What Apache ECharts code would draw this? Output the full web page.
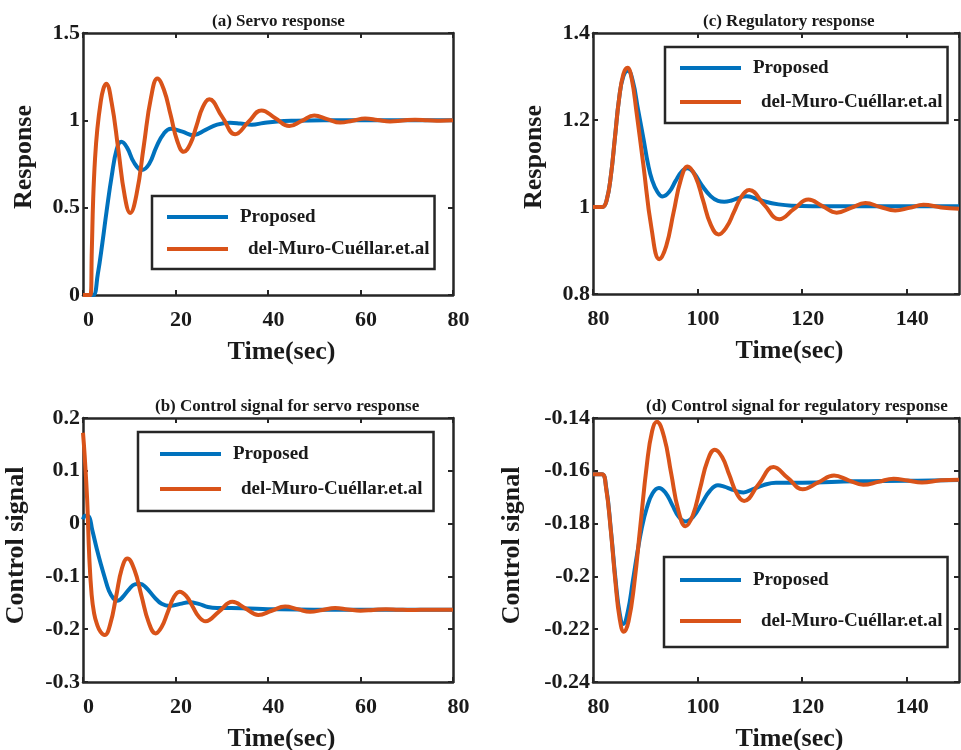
<!DOCTYPE html>
<html><head><meta charset="utf-8">
<script src="https://cdn.jsdelivr.net/npm/echarts@6.0.0/dist/echarts.min.js"></script>
<style>html,body{margin:0;padding:0;background:#fff}#c{width:961px;height:750px}</style>
</head><body><div id="c"></div>
<script>
// ---------------- data ----------------
const SERIES_NAMES = ['Proposed', 'del-Muro-Cuéllar.et.al'];
const PANEL_TITLES = ['(a) Servo response', '(b) Control signal for servo response', '(c) Regulatory response', '(d) Control signal for regulatory response'];
const X_NAME = 'Time(sec)';
const Y_NAMES = ['Response', 'Control signal', 'Response', 'Control signal'];

// (a) servo response
const TA_PROP = [0, 1.2, 2.2, 3.2, 4.2, 5.1, 6.2, 7.3, 8.3, 9.5, 11.0, 12.7, 14.3, 15.9, 17.5, 19.0, 21.5, 23.8, 26.5, 29.0, 31.8, 34.0, 36.5, 39.0, 42.0, 46.0, 52.0, 60.0, 70.0, 80.0];
const A_PROP = [0, 0, 0, 0.12, 0.3, 0.48, 0.68, 0.835, 0.877, 0.845, 0.76, 0.715, 0.75, 0.85, 0.925, 0.952, 0.935, 0.915, 0.945, 0.975, 0.986, 0.982, 0.975, 0.985, 0.994, 0.998, 1.0, 1.0, 1.0, 1.0];
const TA_DMC = [0, 1.0, 1.6, 1.9, 2.2, 2.6, 3.1, 3.8, 4.4, 5.0, 6.2, 7.6, 9.0, 10.2, 11.6, 13.15, 14.7, 16.1, 17.5, 18.95, 20.4, 21.8, 23.2, 24.55, 25.9, 27.3, 30.1, 32.9, 35.75, 38.6, 41.6, 44.6, 47.3, 50.0, 52.8, 55.6, 58.3, 61.0, 63.7, 66.4, 69.1, 71.8, 74.5, 77.3, 80];
const A_DMC = [0, 0, 0, 0.25, 0.55, 0.78, 0.95, 1.1, 1.18, 1.21, 1.10, 0.84, 0.57, 0.47, 0.58, 0.855, 1.13, 1.24, 1.175, 1.03, 0.88, 0.82, 0.865, 0.97, 1.075, 1.12, 1.02, 0.92, 0.99, 1.057, 1.012, 0.967, 0.997, 1.027, 1.007, 0.987, 0.998, 1.01, 1.002, 0.994, 0.999, 1.004, 1.001, 0.998, 1.0];

// (b) control signal, servo
const TB_PROP = [0, 0.5, 1.2, 2.0, 2.96, 3.9, 4.76, 5.6, 6.6, 7.5, 8.5, 10.0, 11.2, 12.3, 13.5, 15.5, 17.0, 18.8, 21.0, 23.0, 25.0, 27.0, 29.0, 32.0, 36.0, 40.0, 50.0, 60.0, 80.0];
const B_PROP = [0.008, 0.015, 0.014, -0.012, -0.047, -0.078, -0.104, -0.127, -0.142, -0.146, -0.14, -0.124, -0.115, -0.114, -0.12, -0.14, -0.152, -0.156, -0.152, -0.149, -0.152, -0.158, -0.16, -0.16, -0.161, -0.162, -0.163, -0.163, -0.163];
const TB_DMC = [0, 0.35, 0.9, 1.37, 1.87, 2.4, 3.0, 3.8, 4.7, 5.9, 7.15, 8.4, 9.6, 11.1, 12.65, 14.2, 15.7, 17.0, 18.3, 19.6, 20.9, 22.3, 23.7, 25.1, 26.5, 29.4, 32.3, 35.1, 37.9, 40.8, 43.7, 46.4, 49.1, 51.8, 54.5, 57.25, 60.0, 62.75, 65.5, 68.2, 71.0, 75.0, 80.0];
const B_DMC = [0.172, 0.13, 0.045, -0.066, -0.135, -0.17, -0.19, -0.205, -0.211, -0.19, -0.1385, -0.085, -0.066, -0.087, -0.137, -0.187, -0.208, -0.196, -0.1685, -0.14, -0.129, -0.137, -0.157, -0.177, -0.185, -0.1665, -0.148, -0.1605, -0.173, -0.165, -0.157, -0.162, -0.167, -0.1635, -0.160, -0.1625, -0.165, -0.1635, -0.162, -0.163, -0.1637, -0.163, -0.163];

// (c) regulatory response
const TC_PROP = [80, 81.8, 82.6, 83.4, 84.2, 85.0, 85.8, 86.7, 87.6, 88.6, 89.7, 90.5, 91.3, 92.3, 93.3, 94.6, 95.8, 97.0, 98.1, 99.3, 100.8, 102.5, 103.9, 105.1, 106.5, 107.9, 109.4, 111.0, 113.0, 115.5, 118.0, 122.0, 130.0, 140.0, 150.0];
const C_PROP = [1.0, 1.0, 1.015, 1.07, 1.16, 1.25, 1.30, 1.313, 1.29, 1.225, 1.154, 1.10, 1.062, 1.035, 1.024, 1.035, 1.06, 1.082, 1.089, 1.078, 1.05, 1.025, 1.014, 1.012, 1.015, 1.021, 1.025, 1.02, 1.012, 1.006, 1.003, 1.002, 1.002, 1.002, 1.002];
const TC_DMC = [80, 81.8, 82.6, 83.4, 84.2, 85.0, 85.8, 86.6, 87.4, 88.3, 89.6, 91.2, 92.7, 94.0, 95.4, 96.8, 98.1, 99.6, 101.05, 102.5, 104.0, 105.5, 106.95, 108.4, 109.9, 112.75, 115.6, 118.4, 121.2, 123.9, 126.6, 129.35, 132.1, 134.95, 137.8, 140.5, 143.2, 146.6, 150];
const C_DMC = [1.0, 1.0, 1.015, 1.07, 1.16, 1.25, 1.305, 1.32, 1.295, 1.22, 1.10, 0.95, 0.88, 0.91, 0.987, 1.063, 1.093, 1.07, 1.015, 0.96, 0.937, 0.953, 0.988, 1.024, 1.039, 1.005, 0.972, 0.995, 1.017, 1.002, 0.987, 0.998, 1.009, 1.0, 0.992, 0.998, 1.005, 0.999, 0.996];

// (d) control signal, regulatory
const TD_PROP = [80, 81.7, 82.5, 83.4, 84.3, 85.1, 85.8, 86.7, 87.6, 88.4, 89.3, 90.3, 91.4, 92.6, 93.9, 95.15, 96.4, 97.7, 99.25, 100.8, 102.35, 103.9, 105.1, 106.35, 107.6, 108.8, 110.5, 112.5, 115.0, 120.0, 130.0, 140.0, 150.0];
const D_PROP = [-0.1613, -0.1613, -0.166, -0.182, -0.201, -0.214, -0.218, -0.213, -0.202, -0.192, -0.182, -0.174, -0.1685, -0.1665, -0.1684, -0.1729, -0.1774, -0.1792, -0.1772, -0.1724, -0.1676, -0.1655, -0.166, -0.1669, -0.1678, -0.1682, -0.167, -0.1655, -0.1645, -0.1645, -0.164, -0.1638, -0.1635];
const TD_DMC = [80, 81.7, 82.5, 83.4, 84.3, 85.1, 85.9, 86.8, 87.9, 89.05, 90.3, 91.3, 92.2, 93.6, 94.95, 96.3, 97.7, 99.1, 100.5, 101.9, 103.3, 104.7, 106.1, 107.5, 108.9, 111.7, 114.5, 117.3, 120.1, 123.1, 126.1, 128.9, 131.7, 134.6, 137.5, 140.2, 142.9, 146.5, 150];
const D_DMC = [-0.1613, -0.1613, -0.1665, -0.1825, -0.2023, -0.216, -0.221, -0.217, -0.2027, -0.181, -0.1577, -0.145, -0.1414, -0.1472, -0.161, -0.1748, -0.181, -0.1768, -0.1665, -0.1562, -0.152, -0.1548, -0.1617, -0.1686, -0.1714, -0.165, -0.1586, -0.1628, -0.167, -0.1644, -0.1618, -0.1636, -0.1653, -0.1642, -0.163, -0.1637, -0.1644, -0.1636, -0.1634];

// axis ranges [min, max, interval]
const X_RANGES = [[0, 80, 20], [0, 80, 20], [80, 150, 20], [80, 150, 20]];
const Y_RANGES = [[0, 1.5, 0.5], [-0.3, 0.2, 0.1], [0.8, 1.4, 0.2], [-0.24, -0.14, 0.02]];
const SERIES_DATA = [
  [[TA_PROP, A_PROP], [TA_DMC, A_DMC]],
  [[TB_PROP, B_PROP], [TB_DMC, B_DMC]],
  [[TC_PROP, C_PROP], [TC_DMC, C_DMC]],
  [[TD_PROP, D_PROP], [TD_DMC, D_DMC]]
];

// ---------------- layout / style ----------------
const FONT = 'Liberation Serif';
const AX = '#262626';
const TXT = '#1a1a1a';
const COLORS = ['#0072BD', '#D95319'];
const LAYOUT = [
  { grid: { left: 83, top: 33, width: 370, height: 262 }, title: [212, 13], yGap: 46, yPad: 14,
    legend: { left: 152, top: 196, padding: [11, 5, 10, 15], itemGap: 12 } },
  { grid: { left: 83, top: 418, width: 370, height: 264 }, title: [155, 398], yGap: 54, yPad: 9,
    legend: { left: 138, top: 432, padding: [12, 11, 12, 22], itemGap: 15 } },
  { grid: { left: 593, top: 33, width: 366, height: 261 }, title: [703, 13], yGap: 46, yPad: 13,
    legend: { left: 665, top: 47, padding: [11, 5, 11, 15], itemGap: 14 } },
  { grid: { left: 593, top: 418, width: 366, height: 264 }, title: [646, 398], yGap: 68, yPad: 9,
    legend: { left: 664, top: 557, padding: [13, 5, 16, 16], itemGap: 21 } }
];

const grids = [], xAxes = [], yAxes = [], series = [], titles = [], legends = [];
const tick = { show: true, inside: true, length: 5, lineStyle: { color: AX, width: 2 } };
const line = { show: true, onZero: false, lineStyle: { color: AX, width: 2.5 } };
const lblStyle = { fontFamily: FONT, fontWeight: 'bold', fontSize: 22, color: TXT };
const nameStyle = { fontFamily: FONT, fontWeight: 'bold', fontSize: 26, color: TXT };

LAYOUT.forEach((L, i) => {
  grids.push(Object.assign({ containLabel: false, outerBoundsMode: 'none' }, L.grid));
  const [xmin, xmax, xint] = X_RANGES[i];
  const [ymin, ymax, yint] = Y_RANGES[i];
  xAxes.push({ type: 'value', gridIndex: i, position: 'bottom', min: xmin, max: xmax, interval: xint,
    axisLine: line, axisTick: tick, splitLine: { show: false },
    axisLabel: Object.assign({ margin: 14, padding: [0, 0, 0, 11], showMaxLabel: xmax % xint === 0, hideOverlap: false }, lblStyle),
    name: X_NAME, nameLocation: 'middle', nameGap: 44,
    nameTextStyle: Object.assign({ padding: [0, 0, 0, 27] }, nameStyle) });
  xAxes.push({ type: 'value', gridIndex: i, position: 'top', min: xmin, max: xmax, interval: xint,
    axisLine: line, axisTick: tick, axisLabel: { show: false }, splitLine: { show: false } });
  yAxes.push({ type: 'value', gridIndex: i, position: 'left', min: ymin, max: ymax, interval: yint,
    axisLine: line, axisTick: tick, splitLine: { show: false },
    axisLabel: Object.assign({ margin: 3, hideOverlap: false }, lblStyle),
    name: Y_NAMES[i], nameLocation: 'middle', nameGap: L.yGap,
    nameTextStyle: Object.assign({ padding: [0, 0, 0, L.yPad] }, nameStyle) });
  yAxes.push({ type: 'value', gridIndex: i, position: 'right', min: ymin, max: ymax, interval: yint,
    axisLine: line, axisTick: tick, axisLabel: { show: false }, splitLine: { show: false } });

  titles.push({ text: PANEL_TITLES[i], left: L.title[0], top: L.title[1], padding: 0,
    textStyle: { fontFamily: FONT, fontWeight: 'bold', fontSize: 17, color: TXT } });

  legends.push(Object.assign({
    orient: 'vertical', data: SERIES_NAMES.slice(), icon: 'rect', itemWidth: 61, itemHeight: 4,
    borderColor: AX, borderWidth: 2.5, backgroundColor: '#fff', selectedMode: false,
    itemStyle: { borderWidth: 0 },
    formatter: n => n === SERIES_NAMES[0] ? '{p|' + n + '}' : '{d|' + n + '}',
    textStyle: { fontFamily: FONT, fontWeight: 'bold', fontSize: 19, lineHeight: 20, color: TXT,
      rich: {
        p: { fontFamily: FONT, fontWeight: 'bold', fontSize: 19, lineHeight: 20, color: TXT, padding: [0, 0, 0, 7] },
        d: { fontFamily: FONT, fontWeight: 'bold', fontSize: 19, lineHeight: 20, color: TXT, padding: [0, 0, 0, 15] }
      } }
  }, L.legend));

  SERIES_DATA[i].forEach((sd, k) => {
    series.push({
      type: 'line', name: SERIES_NAMES[k], xAxisIndex: i * 2, yAxisIndex: i * 2,
      data: sd[0].map((t, j) => [t, sd[1][j]]),
      showSymbol: false, symbol: 'none', smooth: 0.45, color: COLORS[k],
      lineStyle: { width: 4, color: COLORS[k] }, z: 2 + k, animation: false
    });
  });
});

const chart = echarts.init(document.getElementById('c'), null, { renderer: 'canvas' });
chart.setOption({
  animation: false,
  backgroundColor: '#fff',
  title: titles, legend: legends, grid: grids, xAxis: xAxes, yAxis: yAxes, series: series
});
</script></body></html>
